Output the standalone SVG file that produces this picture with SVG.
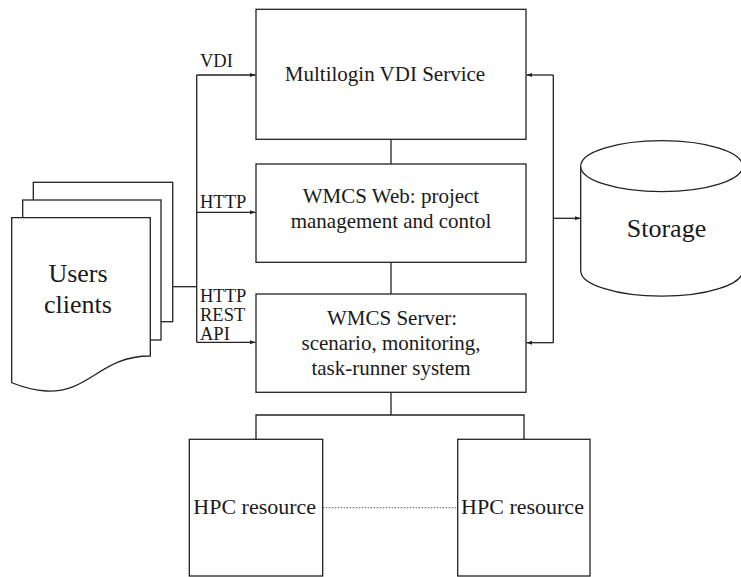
<svg xmlns="http://www.w3.org/2000/svg" width="741" height="577" viewBox="0 0 741 577">
<defs>
<style>
.s{fill:#fff;stroke:#222;stroke-width:1.3}
.c{fill:none;stroke:#222;stroke-width:1.3}
text{font-family:'Liberation Serif','Times New Roman','DejaVu Serif',serif;fill:#1a1a1a}
.t{text-anchor:middle}
.b{font-size:21px}
.l{font-size:18.5px}
</style>
<marker id="ah" markerWidth="6" markerHeight="6" refX="5.5" refY="3" orient="auto" markerUnits="userSpaceOnUse">
<path d="M0,1 L5.5,3 L0,5 Z" fill="#222"/>
</marker>
</defs>
<g id="connectors">
<path class="c" d="M173,286.7 H196.7" stroke-width="2"/>
<path class="c" d="M196.7,75 V342.3"/>
<path class="c" d="M196.7,75 H255.5" marker-end="url(#ah)"/>
<path class="c" d="M196.7,212.3 H255.5" marker-end="url(#ah)"/>
<path class="c" d="M196.7,342.3 H255.5" marker-end="url(#ah)"/>
<path class="c" d="M391,139.3 V164"/>
<path class="c" d="M391,262.3 V294"/>
<path class="c" d="M391,392.3 V415" stroke-width="2"/>
<path class="c" d="M256,439.3 V415 H524 V439.3"/>
<path class="c" d="M553.3,75 V342.7"/>
<path class="c" d="M553.3,75 H526.5" marker-end="url(#ah)"/>
<path class="c" d="M553.3,342.7 H526.5" marker-end="url(#ah)"/>
<path class="c" d="M553.3,218.3 H580.5" marker-end="url(#ah)"/>
<path d="M322.7,507.7 H457.7" fill="none" stroke="#555" stroke-width="1" stroke-dasharray="1.5,1.5"/>
<text class="l" x="200" y="67" font-family="Liberation Serif, serif">VDI</text>
<text class="l" x="200" y="208">HTTP</text>
<text class="l" x="200" y="302">HTTP</text>
<text class="l" x="200" y="321">REST</text>
<text class="l" x="200" y="340">API</text>
</g>
<g id="users-clients">
<rect class="s" x="33.3" y="182.3" width="139.4" height="139.4"/>
<rect class="s" x="22.7" y="200" width="138.3" height="140"/>
<path class="s" d="M11.7,217.7 H150.3 V356 C100,356 90,393 46,391 C30,390 20,386 11.7,382.7 Z"/>
<text class="t" font-size="26" x="78" y="282">Users</text>
<text class="t" font-size="26" x="78" y="313">clients</text>
</g>
<g id="vdi-service">
<rect class="s" x="256" y="9.3" width="270" height="130"/>
<text class="t b" x="385" y="81">Multilogin VDI Service</text>
</g>
<g id="wmcs-web">
<rect class="s" x="256" y="164" width="270" height="98.3"/>
<text class="t b" x="391" y="203">WMCS Web: project</text>
<text class="t b" x="391" y="228">management and contol</text>
</g>
<g id="wmcs-server">
<rect class="s" x="256" y="294" width="270" height="98.3"/>
<text class="t b" x="392" y="325">WMCS Server:</text>
<text class="t b" x="391" y="350">scenario, monitoring,</text>
<text class="t b" x="391" y="375">task-runner system</text>
</g>
<g id="storage">
<path class="s" d="M580.7,166.2 V270.7 A81,25.5 0 0 0 742.7,270.7 V166.2"/>
<ellipse class="s" cx="661.7" cy="166.2" rx="81" ry="25.5"/>
<text class="t" font-size="26" x="666.5" y="237">Storage</text>
</g>
<g id="hpc-1">
<rect class="s" x="189.3" y="439.3" width="133.4" height="136.7"/>
<text class="t" font-size="22" x="254.7" y="514.3">HPC resource</text>
</g>
<g id="hpc-2">
<rect class="s" x="457.7" y="439.3" width="132.3" height="136.7"/>
<text class="t" font-size="22" x="522.5" y="514.3">HPC resource</text>
</g>
</svg>
